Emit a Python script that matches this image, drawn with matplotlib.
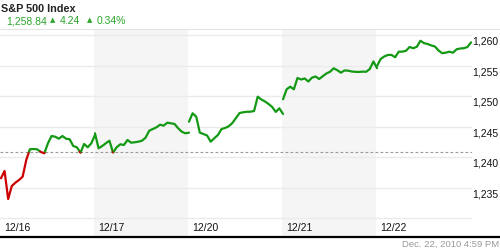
import matplotlib
matplotlib.use("Agg")
import matplotlib.pyplot as plt
import numpy as np
from matplotlib.lines import Line2D

plt.rcParams['font.family'] = ['Liberation Sans', 'DejaVu Sans']

# 15-minute closes for each session
day_labels = ['12/16', '12/17', '12/20', '12/21', '12/22']
day1 = [1236.52, 1237.72, 1233.12, 1235.25, 1235.80, 1236.24, 1236.78, 1239.52, 1241.28,
        1241.33, 1241.28, 1240.84, 1240.62, 1242.27, 1243.46, 1243.35, 1243.02, 1243.46,
        1243.02, 1242.92, 1241.82, 1241.61, 1240.72, 1242.15, 1241.61, 1242.27, 1243.63]
day2 = [1243.91, 1241.44, 1241.82, 1242.27, 1242.69, 1240.75, 1241.61, 1242.10, 1241.99,
        1242.81, 1242.36, 1242.43, 1242.53, 1242.69, 1243.19, 1244.33, 1244.61, 1244.89,
        1245.32, 1245.16, 1245.65, 1245.55, 1245.44, 1244.73, 1244.17, 1243.91, 1244.01]
day3 = [1245.81, 1247.19, 1246.63, 1244.01, 1243.79, 1243.55, 1242.53, 1243.09, 1243.63,
        1244.61, 1244.78, 1245.07, 1245.60, 1246.42, 1247.24, 1247.36, 1247.44, 1247.45,
        1247.57, 1249.92, 1249.46, 1249.13, 1248.72, 1248.23, 1247.41, 1248.01, 1247.08]
day4 = [1249.49, 1251.13, 1251.56, 1251.13, 1252.99, 1252.74, 1252.91, 1252.41, 1253.04,
        1253.23, 1252.82, 1253.28, 1253.73, 1254.01, 1254.58, 1254.27, 1253.86, 1254.22,
        1254.19, 1254.05, 1254.00, 1253.98, 1254.03, 1254.01, 1254.47, 1255.70, 1254.60]
day5 = [1254.96, 1256.11, 1256.52, 1256.77, 1256.77, 1256.39, 1257.31, 1257.31, 1257.45,
        1258.08, 1257.87, 1258.11, 1259.10, 1258.70, 1258.57, 1258.33, 1258.16, 1257.50,
        1257.06, 1257.14, 1257.31, 1257.14, 1257.70, 1257.83, 1257.87, 1258.08, 1258.84]
sessions = [day1, day2, day3, day4, day5]
ref_level = 1240.9
ytick_values = [1235, 1240, 1245, 1250, 1255, 1260]
grid_values = [1230, 1235, 1240, 1245, 1250, 1255, 1260]

GREEN = '#139913'
RED = '#cc0000'


def colored_runs(x, y, ref):
    """Split a line into runs that are above (green) or below (red) ref."""
    runs = []
    cur_x, cur_y = [x[0]], [y[0]]
    cur_c = GREEN if y[0] >= ref else RED
    for i in range(1, len(x)):
        c = GREEN if y[i] >= ref else RED
        if c != cur_c:
            t = (ref - y[i - 1]) / (y[i] - y[i - 1])
            xc = x[i - 1] + t * (x[i] - x[i - 1])
            cur_x.append(xc)
            cur_y.append(ref)
            runs.append((cur_x, cur_y, cur_c))
            cur_x, cur_y, cur_c = [xc], [ref], c
        cur_x.append(x[i])
        cur_y.append(y[i])
    runs.append((cur_x, cur_y, cur_c))
    return runs


fig = plt.figure(figsize=(5, 2.5), dpi=100)
ax = fig.add_axes([0, 1 - 237 / 250, 472 / 500, (237 - 29) / 250])
ax.set_xlim(0, 5.02)
ax.set_ylim(1226.88, 1261.03)
ax.axis('off')

# alternating day shading
for d in range(len(sessions)):
    if d % 2 == 1:
        ax.axvspan(d, d + 1, color='#f5f5f5', lw=0, zorder=0)

for g in grid_values:
    ax.axhline(g, color='#ebebeb', lw=1, zorder=1)

ax.axhline(ref_level, color='#999999', lw=0.8, ls=(0, (2.5, 2)), zorder=2)

for d, vals in enumerate(sessions):
    vals = np.array(vals)
    xs = d + 0.01 + np.arange(len(vals)) / (len(vals) - 1)
    for rx, ry, rc in colored_runs(xs, vals, ref_level):
        ax.plot(rx, ry, color=rc, lw=1.6, solid_joinstyle='round',
                solid_capstyle='round', zorder=3)
    ax.annotate(day_labels[d], xy=(d, 1228.4), xytext=(3, 0), textcoords='offset points',
                ha='left', va='center', fontsize=7.5, color='#111111')

for v in ytick_values:
    ax.annotate(f'{v:,}', xy=(1, v), xycoords=('axes fraction', 'data'),
                xytext=(0.5, -1.2), textcoords='offset points',
                ha='left', va='top', fontsize=7.5, color='#111111', annotation_clip=False)

# header
fig.text(1 / 500, 1 - 9.5 / 250, 'S&P 500 Index', fontsize=7.8, fontweight='bold',
         color='#222222', ha='left', va='center')
hdr_y = 1 - 21 / 250
fig.text(6 / 500, hdr_y, '1,258.84', fontsize=7.5, color='#2aa52a', ha='left', va='center')
fig.text(50 / 500, hdr_y + 0.004, '▲', fontsize=5, color='#2aa52a', ha='left', va='center',
         family=['DejaVu Sans'])
fig.text(60 / 500, hdr_y, '4.24', fontsize=7.5, color='#2aa52a', ha='left', va='center')
fig.text(87 / 500, hdr_y + 0.004, '▲', fontsize=5, color='#2aa52a', ha='left', va='center',
         family=['DejaVu Sans'])
fig.text(97 / 500, hdr_y, '0.34%', fontsize=7.5, color='#2aa52a', ha='left', va='center')

fig.add_artist(Line2D([0, 1], [1 - 28.7 / 250] * 2, transform=fig.transFigure,
                      color='#e4e4e4', lw=0.8))
fig.add_artist(Line2D([0, 1], [1 - 237 / 250] * 2, transform=fig.transFigure,
                      color='black', lw=1.6))

fig.text(499 / 500, 1 - 244.5 / 250, 'Dec. 22, 2010 4:59 PM', fontsize=6.8, color='#999999',
         ha='right', va='center')

fig.savefig('out.png', dpi=100)
